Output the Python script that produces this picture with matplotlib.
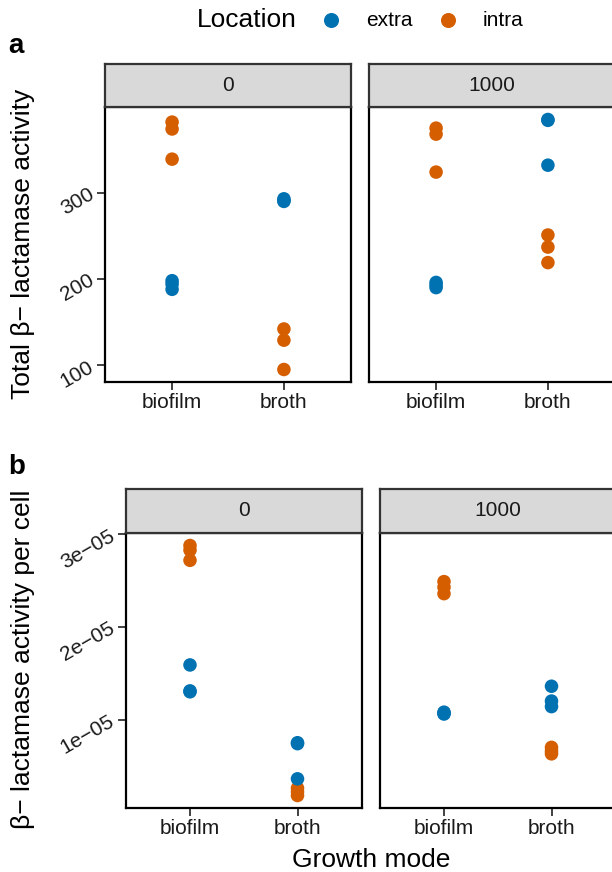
import matplotlib
matplotlib.use("Agg")
import matplotlib.pyplot as plt
from matplotlib.lines import Line2D
import numpy as np

plt.rcParams['font.family'] = ['Liberation Sans', 'DejaVu Sans']

# ---------------- data ----------------
modes = ["biofilm", "broth"]
concentrations = ["0", "1000"]
locations = ["extra", "intra"]
colors = {"extra": "#0072B2", "intra": "#D55E00"}

# sample descriptors (shared by both measurements)
sample_conc = ["0"] * 12 + ["1000"] * 12
sample_mode = (["biofilm"] * 6 + ["broth"] * 6) * 2
sample_loc = (["intra"] * 3 + ["extra"] * 3) * 4

# Total beta-lactamase activity
total_val = [382, 374, 339, 198, 194, 188,
             142, 129, 95, 293, 291, 290,
             375, 368, 324, 196, 193, 190,
             251, 237, 219, 385, 384, 332]

# Beta-lactamase activity per cell
cell_val = [2.88e-5, 2.83e-5, 2.72e-5, 1.59e-5, 1.31e-5, 1.30e-5,
            0.26e-5, 0.22e-5, 0.18e-5, 0.75e-5, 0.74e-5, 0.36e-5,
            2.49e-5, 2.43e-5, 2.36e-5, 1.08e-5, 1.07e-5, 1.06e-5,
            0.70e-5, 0.66e-5, 0.63e-5, 1.36e-5, 1.20e-5, 1.14e-5]

total_ticks = [100, 200, 300]
total_ticklabels = ["100", "200", "300"]
cell_ticks = [1e-5, 2e-5, 3e-5]
cell_ticklabels = ["1e\u221205", "2e\u221205", "3e\u221205"]

# ---------------- figure ----------------
W, H = 612, 872
fig = plt.figure(figsize=(W / 100, H / 100), dpi=100)

def fx(px):
    return px / W

def fy(py):
    return 1 - py / H

TICK_FS = 15
TITLE_FS = 19

def draw_row(val, lefts, width, top, bottom, strip_top, yticks, yticklabels):
    vals = np.array(val, dtype=float)
    lo, hi = vals.min(), vals.max()
    pad = 0.05 * (hi - lo)
    ylim = (lo - pad, hi + pad)
    for i, c in enumerate(concentrations):
        ax = fig.add_axes([fx(lefts[i]), fy(bottom), fx(width), (bottom - top) / H])
        sel = [j for j in range(len(val)) if sample_conc[j] == c]
        xs = [modes.index(sample_mode[j]) + 1 for j in sel]
        ys = [val[j] for j in sel]
        cs = [colors[sample_loc[j]] for j in sel]
        ax.scatter(xs, ys, c=cs, s=95, linewidths=0, zorder=3, clip_on=False)
        ax.set_xlim(0.4, 2.6)
        ax.set_ylim(*ylim)
        ax.set_xticks([1, 2])
        ax.set_xticklabels(modes, fontsize=TICK_FS, color="#1a1a1a")
        ax.tick_params(axis="x", length=6, width=1.3, color="#333333", pad=2)
        if i == 0:
            ax.set_yticks(yticks)
            ax.set_yticklabels(yticklabels, fontsize=TICK_FS, color="#1a1a1a",
                               rotation=30, ha="right", va="center",
                               rotation_mode="anchor")
            ax.tick_params(axis="y", length=6, width=1.3, color="#333333", pad=3)
        else:
            ax.set_yticks([])
        for sp in ax.spines.values():
            sp.set_linewidth(1.6)
            sp.set_color("black")
        # facet strip
        sax = fig.add_axes([fx(lefts[i]), fy(top), fx(width), (top - strip_top) / H])
        sax.set_xticks([])
        sax.set_yticks([])
        sax.set_facecolor("#D9D9D9")
        for sp in sax.spines.values():
            sp.set_linewidth(1.6)
            sp.set_color("#333333")
        sax.text(0.5, 0.5, c, ha="center", va="center", fontsize=TICK_FS,
                 color="#1a1a1a", transform=sax.transAxes)

draw_row(total_val, lefts=[105, 369], width=246, top=107, bottom=382, strip_top=64,
         yticks=total_ticks, yticklabels=total_ticklabels)

draw_row(cell_val, lefts=[125.5, 379.5], width=236.5, top=533, bottom=808, strip_top=489,
         yticks=cell_ticks, yticklabels=cell_ticklabels)

# axis titles
fig.text(fx(23), fy(244), "Total \u03b2\u2212 lactamase activity", rotation=90,
         ha="center", va="center", fontsize=TITLE_FS)
fig.text(fx(23), fy(659), "\u03b2\u2212 lactamase activity per cell", rotation=90,
         ha="center", va="center", fontsize=TITLE_FS)
fig.text(fx(371), fy(860), "Growth mode", ha="center", va="center", fontsize=TITLE_FS)

# panel labels
fig.text(fx(8), fy(46), "a", ha="left", va="center", fontsize=20, fontweight="bold")
fig.text(fx(8), fy(467), "b", ha="left", va="center", fontsize=20, fontweight="bold")

# legend
fig.text(fx(197), fy(20), "Location", ha="left", va="center", fontsize=TITLE_FS)
leg_x = {"extra": 331, "intra": 448}
for loc_name in locations:
    fig.add_artist(Line2D([fx(leg_x[loc_name])], [fy(20)], marker="o", markersize=9.8,
                          color=colors[loc_name], linestyle="none",
                          transform=fig.transFigure))
    fig.text(fx(leg_x[loc_name] + 35), fy(20), loc_name, ha="left", va="center",
             fontsize=TICK_FS)

fig.savefig("out.png", dpi=100)
